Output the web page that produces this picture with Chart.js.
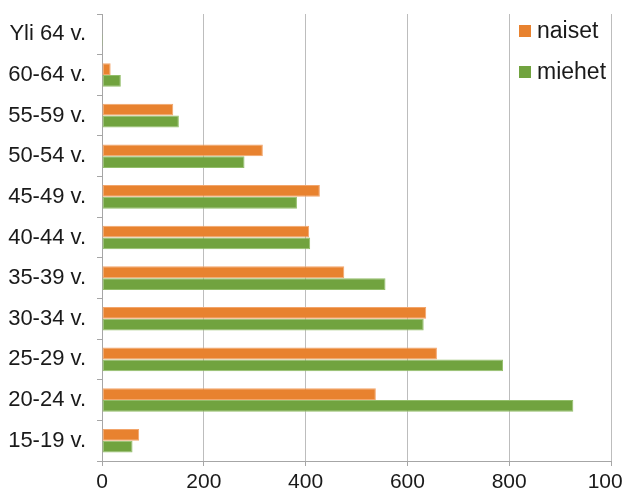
<!DOCTYPE html>
<html>
<head>
<meta charset="utf-8">
<script src="https://cdn.jsdelivr.net/npm/chart.js@4/dist/chart.umd.min.js"></script>
<style>
  html, body { margin: 0; padding: 0; background: #fff; overflow: hidden; }
  #wrap { position: relative; width: 623px; height: 493px; }
  #legend {
    position: absolute; left: 519px; top: 10px;
    font-family: "Liberation Sans", Arial, sans-serif; font-size: 23px; color: #1a1a1a;
  }
  .item { display: flex; align-items: center; height: 41px; }
  .sw { width: 12px; height: 12px; margin-right: 6px; }
</style>
</head>
<body>
<div id="wrap">
  <canvas id="c" width="623" height="493"></canvas>
  <div id="legend"></div>
</div>
<script>
// Age groups, listed top to bottom
const ageGroups = ['Yli 64 v.', '60-64 v.', '55-59 v.', '50-54 v.', '45-49 v.', '40-44 v.',
                   '35-39 v.', '30-34 v.', '25-29 v.', '20-24 v.', '15-19 v.'];
const naiset = [0, 17, 140, 316, 428, 407, 476, 637, 658, 538, 73];
const miehet = [2, 37, 151, 280, 383, 409, 557, 632, 788, 926, 60];
const xTicks = [0, 200, 400, 600, 800, 1000];

const seriesNames = ['naiset', 'miehet'];
const seriesColors = ['#E8822F', '#71A33F'];
const seriesBorders = ['#F2A56B', '#93BE6A'];

Chart.defaults.font.family = '"Liberation Sans", Arial, sans-serif';
Chart.defaults.font.size = 22;
Chart.defaults.color = '#1a1a1a';

const datasets = [naiset, miehet].map((vals, i) => ({
  label: seriesNames[i],
  data: vals,
  backgroundColor: seriesColors[i],
  borderColor: seriesBorders[i],
  borderWidth: 1,
  borderSkipped: false,
  barPercentage: 1,
  categoryPercentage: 0.58
}));

new Chart(document.getElementById('c'), {
  type: 'bar',
  data: { labels: ageGroups, datasets },
  options: {
    indexAxis: 'y',
    responsive: false,
    animation: false,
    layout: { padding: { left: 0, top: 14, right: 12, bottom: 0 } },
    plugins: { legend: { display: false }, tooltip: { enabled: false } },
    scales: {
      x: {
        min: xTicks[0],
        max: xTicks[xTicks.length - 1],
        afterBuildTicks: s => { s.ticks = xTicks.map(v => ({ value: v })); },
        // fixed axis band; the last label may run past the right edge
        afterFit: s => { s.height = 32; s.paddingLeft = 0; s.paddingRight = 0; },
        grid: { color: '#BDBDBD', tickLength: 5, tickColor: '#A6A6A6' },
        border: { color: '#A6A6A6' },
        ticks: { padding: 4, maxRotation: 0, font: { size: 21 }, callback: v => String(v) }
      },
      y: {
        afterFit: s => { s.width = 102; s.paddingTop = 0; s.paddingBottom = 0; },
        grid: { drawOnChartArea: false, tickLength: 5, offset: true, color: '#A6A6A6' },
        border: { color: '#A6A6A6' },
        ticks: { padding: 11 }
      }
    }
  }
});

// Legend placed inside the plot, top right
const legend = document.getElementById('legend');
seriesNames.forEach((name, i) => {
  const item = document.createElement('div');
  item.className = 'item';
  const sw = document.createElement('span');
  sw.className = 'sw';
  sw.style.background = seriesColors[i];
  const txt = document.createElement('span');
  txt.textContent = name;
  item.appendChild(sw);
  item.appendChild(txt);
  legend.appendChild(item);
});
</script>
</body>
</html>
